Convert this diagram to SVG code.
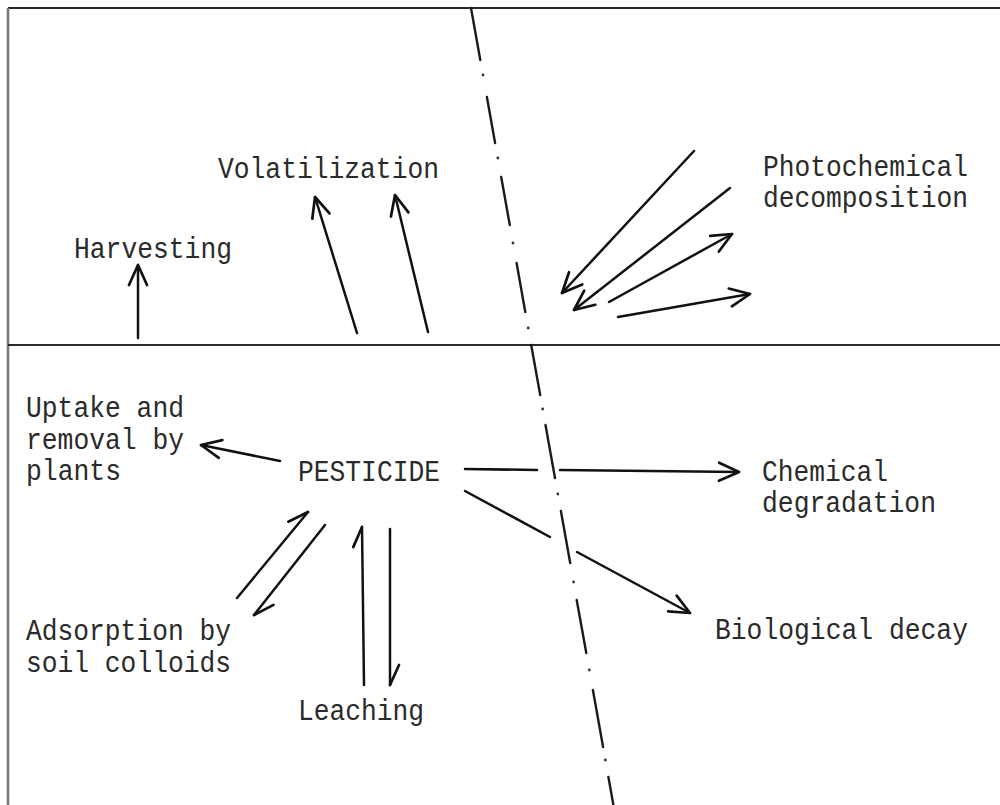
<svg xmlns="http://www.w3.org/2000/svg" width="1000" height="805" viewBox="0 0 1000 805">
<defs>
<style>
.frame{stroke:#2a2a2a;stroke-width:2.2;fill:none}
.lframe{stroke:#7a7a7a;stroke-width:2.6;fill:none}
.dash{stroke:#1a1a1a;stroke-width:2.4;stroke-linecap:round;fill:none}
.dot{fill:#333}
.arr{stroke:#111;stroke-width:2.5;fill:none;stroke-linecap:round}
.full{marker-end:url(#head)}
.half{marker-end:url(#half)}
text{font-family:"Liberation Mono","Courier New",monospace;font-size:29px;fill:#2a2a2a}
</style>
<marker id="head" markerUnits="userSpaceOnUse" markerWidth="30" markerHeight="30" viewBox="-25 -15 30 30" refX="0" refY="0" orient="auto">
<path d="M-20,-9 L0,0 L-20,9" fill="none" stroke="#111" stroke-width="2.7" stroke-linecap="round" stroke-linejoin="round"/>
</marker>
<marker id="half" markerUnits="userSpaceOnUse" markerWidth="30" markerHeight="30" viewBox="-25 -15 30 30" refX="0" refY="0" orient="auto">
<path d="M-20,-9 L0,0" fill="none" stroke="#111" stroke-width="2.7" stroke-linecap="round" stroke-linejoin="round"/>
</marker>
</defs>
<rect width="1000" height="805" fill="#ffffff"/>

<g id="frame">
<line class="frame" x1="8" y1="8" x2="1000" y2="8"/>
<line class="lframe" x1="8" y1="8" x2="8" y2="805"/>
<line class="frame" x1="8" y1="345" x2="1000" y2="345"/>
</g>

<g id="boundary">
<line class="dash" x1="471" y1="8" x2="480.3" y2="60"/>
<line class="dash" x1="486.9" y1="97" x2="495.1" y2="143"/>
<line class="dash" x1="501.2" y1="177" x2="509.8" y2="225"/>
<line class="dash" x1="516.6" y1="263" x2="525.3" y2="312"/>
<line class="dash" x1="531.2" y1="345" x2="540.2" y2="395"/>
<line class="dash" x1="545.5" y1="425" x2="555" y2="478"/>
<line class="dash" x1="560.9" y1="511" x2="570.2" y2="563"/>
<line class="dash" x1="576.7" y1="600" x2="586.3" y2="653"/>
<line class="dash" x1="592.9" y1="690" x2="603.1" y2="747"/>
<line class="dash" x1="608.4" y1="777" x2="613.4" y2="805"/>
<circle class="dot" cx="483" cy="75" r="1.4"/>
<circle class="dot" cx="497.8" cy="158" r="1.4"/>
<circle class="dot" cx="513" cy="243" r="1.4"/>
<circle class="dot" cx="528.2" cy="328" r="1.4"/>
<circle class="dot" cx="542.7" cy="409" r="1.4"/>
<circle class="dot" cx="557.8" cy="494" r="1.4"/>
<circle class="dot" cx="573.6" cy="582" r="1.4"/>
<circle class="dot" cx="589.3" cy="670" r="1.4"/>
<circle class="dot" cx="605.4" cy="760" r="1.4"/>
</g>

<g id="connectors">
<line class="arr full" x1="138" y1="338" x2="138" y2="265"/>
<line class="arr full" x1="357" y1="333" x2="315" y2="197"/>
<line class="arr full" x1="428" y1="332" x2="395" y2="195"/>
<line class="arr full" x1="694" y1="151" x2="562" y2="293"/>
<line class="arr full" x1="730" y1="188" x2="574" y2="310"/>
<line class="arr full" x1="609" y1="302" x2="732" y2="234"/>
<line class="arr full" x1="618" y1="317" x2="750" y2="294"/>
<line class="arr full" x1="280" y1="461" x2="201" y2="445"/>
<line class="arr" x1="465" y1="469" x2="537" y2="470"/>
<line class="arr full" x1="560" y1="470" x2="739" y2="472"/>
<line class="arr" x1="465" y1="491" x2="550" y2="537"/>
<line class="arr full" x1="577" y1="552" x2="690" y2="613"/>
<line class="arr half" x1="237" y1="598" x2="308" y2="512"/>
<line class="arr half" x1="325" y1="525" x2="254" y2="615"/>
<line class="arr half" x1="364" y1="685" x2="362" y2="527"/>
<line class="arr half" x1="390" y1="529" x2="390" y2="685"/>
</g>

<g id="volatilization"><text x="218" y="178" textLength="221" lengthAdjust="spacingAndGlyphs">Volatilization</text></g>
<g id="harvesting"><text x="74" y="258" textLength="158" lengthAdjust="spacingAndGlyphs">Harvesting</text></g>
<g id="photochemical"><text x="763" y="176" textLength="205" lengthAdjust="spacingAndGlyphs">Photochemical</text><text x="763" y="207" textLength="205" lengthAdjust="spacingAndGlyphs">decomposition</text></g>
<g id="uptake"><text x="26" y="417" textLength="158" lengthAdjust="spacingAndGlyphs">Uptake and</text><text x="26" y="449" textLength="158" lengthAdjust="spacingAndGlyphs">removal by</text><text x="26" y="480" textLength="95" lengthAdjust="spacingAndGlyphs">plants</text></g>
<g id="pesticide"><text x="298" y="481" textLength="142" lengthAdjust="spacingAndGlyphs">PESTICIDE</text></g>
<g id="adsorption"><text x="26" y="640" textLength="205" lengthAdjust="spacingAndGlyphs">Adsorption by</text><text x="26" y="672" textLength="205" lengthAdjust="spacingAndGlyphs">soil colloids</text></g>
<g id="leaching"><text x="298" y="720" textLength="126" lengthAdjust="spacingAndGlyphs">Leaching</text></g>
<g id="chemical"><text x="762" y="481" textLength="126" lengthAdjust="spacingAndGlyphs">Chemical</text><text x="762" y="512" textLength="174" lengthAdjust="spacingAndGlyphs">degradation</text></g>
<g id="biological"><text x="715" y="639" textLength="253" lengthAdjust="spacingAndGlyphs">Biological decay</text></g>
</svg>
